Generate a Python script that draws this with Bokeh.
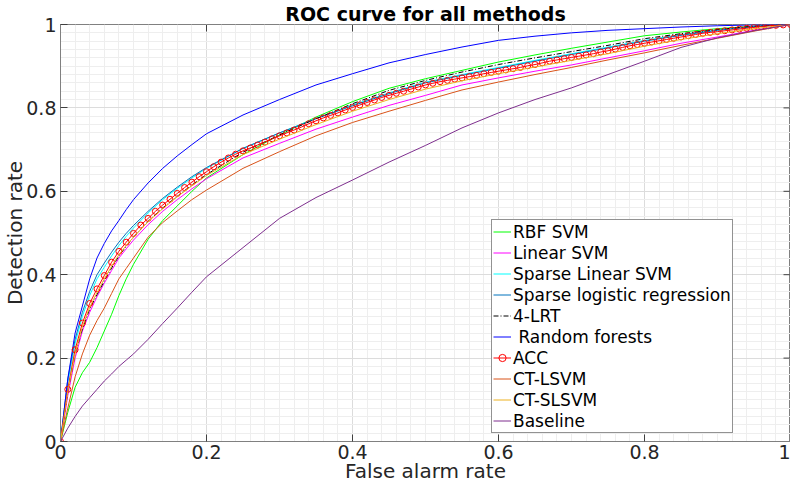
import math
from bokeh.plotting import figure
from bokeh.models import (Range1d, FixedTicker, Legend, LegendItem,
                          CustomJSTickFormatter)
from bokeh.embed import file_html
from bokeh.resources import INLINE

# ---------------- data ----------------
XS = [0, .01, .02, .03, .04, .05, .06, .07, .08, .09, .10, .12, .14, .16, .18, .20,
      .25, .30, .35, .40, .45, .50, .55, .60, .65, .70, .75, .80, .85, .90, .95, 1.0]

rbf_svm = [0, .07, .13, .165, .19, .225, .265, .305, .35, .39, .425, .485, .53, .565, .6, .632,
           .688, .735, .778, .815, .847, .87, .89, .91, .927, .943, .958, .973, .982, .99, .996, 1]
linear_svm = [0, .11, .2, .265, .31, .347, .38, .41, .44, .462, .483, .52, .552, .58, .606, .63,
              .68, .715, .749, .778, .806, .83, .855, .872, .888, .903, .92, .937, .955, .97, .986, 1]
sparse_linear_svm = [0, .14, .235, .3, .35, .39, .418, .445, .47, .492, .512, .548, .58, .607, .632, .655,
                     .703, .74, .775, .807, .836, .862, .88, .897, .914, .93, .946, .962, .976, .987, .995, 1]
sparse_logreg = [0, .15, .245, .31, .36, .4, .428, .454, .478, .499, .518, .552, .583, .61, .635, .657,
                 .703, .74, .774, .805, .834, .86, .878, .895, .912, .928, .944, .96, .974, .986, .995, 1]
lrt4 = [0, .12, .21, .27, .318, .352, .385, .416, .445, .468, .49, .528, .56, .588, .615, .64,
        .694, .735, .774, .81, .842, .866, .886, .904, .92, .935, .95, .966, .978, .988, .996, 1]
random_forests = [0, .15, .26, .325, .39, .44, .475, .505, .53, .556, .58, .62, .655, .685, .712, .738,
                  .783, .82, .855, .882, .908, .928, .946, .962, .972, .98, .986, .99, .994, .997, .999, 1]
ct_lsvm = [0, .08, .155, .21, .255, .29, .32, .355, .39, .415, .44, .49, .525, .553, .58, .603,
           .655, .695, .733, .765, .792, .818, .843, .862, .88, .897, .915, .932, .95, .967, .984, 1]
ct_slsvm = [0, .12, .21, .275, .322, .357, .39, .42, .448, .47, .49, .527, .558, .587, .613, .638,
            .688, .725, .76, .792, .82, .845, .865, .882, .898, .914, .93, .948, .964, .978, .99, 1]
baseline = [0, .032, .06, .085, .105, .125, .145, .162, .18, .195, .21, .245, .283, .32, .358, .395,
            .465, .535, .585, .627, .67, .71, .752, .788, .82, .848, .88, .912, .945, .968, .985, 1]

ACC_X = [round(i * 0.01, 2) for i in range(101)]
acc = [0, .125, .22, .284, .331, .366, .398, .43, .456, .478,
       .499, .519, .535, .552, .567, .581, .595, .609, .622, .635,
       .647, .659, .670, .680, .689, .697, .704, .711, .718, .726,
       .733, .740, .747, .754, .762, .769, .776, .782, .788, .795,
       .801, .807, .813, .819, .825, .830, .835, .840, .845, .850,
       .855, .859, .863, .866, .869, .872, .875, .878, .882, .885,
       .888, .891, .894, .897, .901, .904, .908, .912, .915, .918,
       .921, .924, .927, .930, .934, .937, .941, .945, .949, .952,
       .955, .958, .961, .964, .967, .970, .973, .976, .979, .981,
       .983, .985, .987, .989, .991, .993, .995, .997, .998, .999, 1.0]

MAJOR_TICKS = [0, 0.2, 0.4, 0.6, 0.8, 1.0]
MINOR_TICKS = [round(i * 0.02, 2) for i in range(51)]

FONT = "DejaVu Sans"

# ---------------- figure ----------------
p = figure(width=790, height=485, output_backend="svg", toolbar_location=None,
           x_range=Range1d(0, 1), y_range=Range1d(0, 1),
           min_border_left=0, min_border_right=0, min_border_top=19, min_border_bottom=0,
           background_fill_color="white", border_fill_color="white",
           outline_line_color="#808080")

p.title.text = "ROC curve for all methods"
p.title.align = "center"
p.title.text_font = FONT
p.title.text_font_size = "19px"
p.title.text_font_style = "bold"
p.title.text_color = "#000000"
p.title.standoff = 0
p.title.offset = 0

ticker = FixedTicker(ticks=MAJOR_TICKS, minor_ticks=MINOR_TICKS)
fmt = CustomJSTickFormatter(code="return String(Math.round(tick*10)/10);")

for ax in (p.xaxis[0], p.yaxis[0]):
    ax.ticker = ticker
    ax.formatter = fmt
    ax.major_label_text_font = FONT
    ax.major_label_text_font_size = "19px"
    ax.major_label_text_color = "#262626"
    ax.axis_label_text_font = FONT
    ax.axis_label_text_font_size = "20px"
    ax.axis_label_text_font_style = "normal"
    ax.axis_label_text_color = "#262626"
    ax.major_tick_in = 7
    ax.major_tick_out = 0
    ax.minor_tick_in = 0
    ax.minor_tick_out = 0
    ax.minor_tick_line_color = None
    ax.axis_line_color = "#808080"
    ax.major_tick_line_color = "#404040"

p.xaxis[0].axis_label = "False alarm rate"
p.yaxis[0].axis_label = "Detection rate"
p.xaxis[0].major_label_standoff = 3
p.yaxis[0].major_label_standoff = 4
p.xaxis[0].axis_label_standoff = -3
p.yaxis[0].axis_label_standoff = -4

for g in (p.xgrid[0], p.ygrid[0]):
    g.ticker = ticker
    g.grid_line_color = "#dcdcdc"
    g.grid_line_width = 1
    g.minor_grid_line_color = "#eeeeee"
    g.minor_grid_line_width = 1

# inward tick marks on the top and right edges of the box
p.ray(x=MAJOR_TICKS, y=[1] * len(MAJOR_TICKS), length=7, length_units="screen",
      angle=-math.pi / 2, line_color="#404040", line_width=1)
p.ray(x=[1] * len(MAJOR_TICKS), y=MAJOR_TICKS, length=7, length_units="screen",
      angle=math.pi, line_color="#404040", line_width=1)

# ---------------- curves ----------------
r_rbf = p.line(XS, rbf_svm, line_color="#00ff00", line_width=1)
r_lin = p.line(XS, linear_svm, line_color="#ff00ff", line_width=1)
r_sls = p.line(XS, sparse_linear_svm, line_color="#00ffff", line_width=1)
r_slr = p.line(XS, sparse_logreg, line_color="#0072bd", line_width=1)
r_lrt = p.line(XS, lrt4, line_color="#000000", line_width=1, line_dash="5 2 1 2")
r_rf = p.line(XS, random_forests, line_color="#0000ff", line_width=1)
r_acc_l = p.line(ACC_X, acc, line_color="#ff0000", line_width=1)
r_acc_m = p.scatter(ACC_X, acc, marker="circle", size=6, fill_color=None,
                    line_color="#ff0000", line_width=1)
r_ctl = p.line(XS, ct_lsvm, line_color="#d95319", line_width=1)
r_cts = p.line(XS, ct_slsvm, line_color="#edb120", line_width=1)
r_base = p.line(XS, baseline, line_color="#7e2f8e", line_width=1)

items = [
    LegendItem(label="RBF SVM", renderers=[r_rbf]),
    LegendItem(label="Linear SVM", renderers=[r_lin]),
    LegendItem(label="Sparse Linear SVM", renderers=[r_sls]),
    LegendItem(label="Sparse logistic regression", renderers=[r_slr]),
    LegendItem(label="4-LRT", renderers=[r_lrt]),
    LegendItem(label=" Random forests", renderers=[r_rf]),
    LegendItem(label="ACC", renderers=[r_acc_l, r_acc_m]),
    LegendItem(label="CT-LSVM", renderers=[r_ctl]),
    LegendItem(label="CT-SLSVM", renderers=[r_cts]),
    LegendItem(label="Baseline", renderers=[r_base]),
]
legend = Legend(items=items, location=(431, 8))
legend.label_text_font = FONT
legend.label_text_font_size = "17px"
legend.label_text_color = "#000000"
legend.label_height = 21
legend.glyph_height = 21
legend.glyph_width = 18
legend.label_standoff = 2
legend.spacing = 0
legend.padding = 1
legend.margin = 0
legend.border_line_color = "#262626"
legend.border_line_width = 1
legend.background_fill_color = "white"
legend.background_fill_alpha = 1
p.add_layout(legend, "center")

open("out.html", "w").write(file_html(p, INLINE))
